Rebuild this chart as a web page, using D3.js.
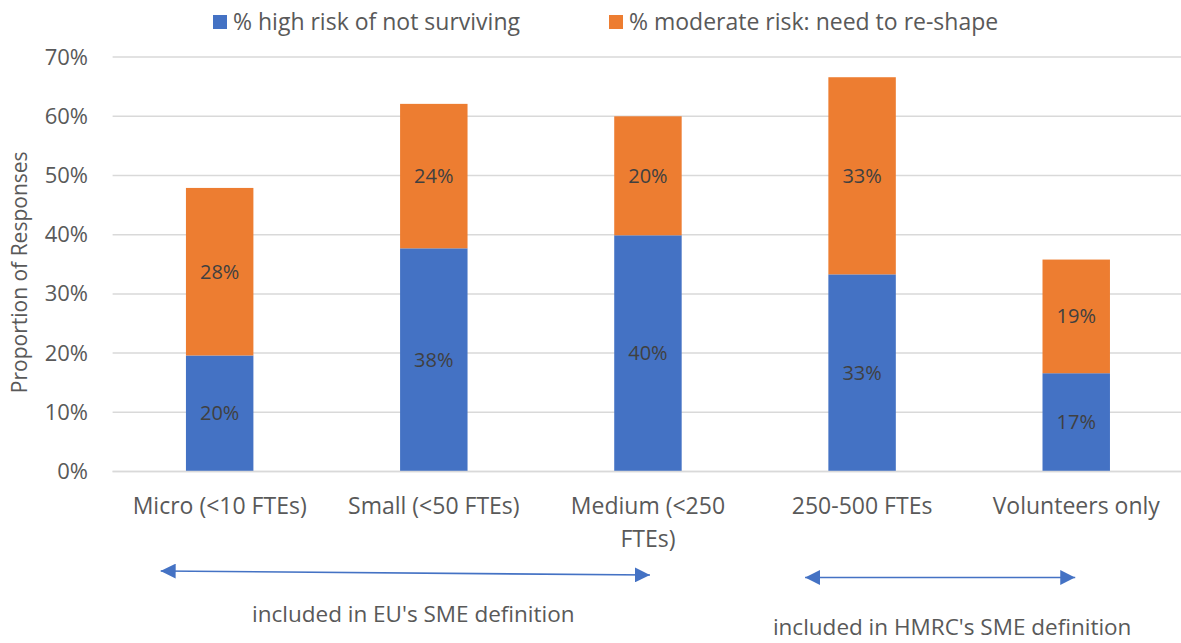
<!DOCTYPE html>
<html>
<head>
<meta charset="utf-8">
<script src="https://cdn.jsdelivr.net/npm/d3@7"></script>
<style>
  html, body { margin: 0; padding: 0; background: #fff; }
  svg { display: block; font-family: "Open Sans", "Noto Sans", sans-serif; }
</style>
</head>
<body>
<svg id="chart" width="1181" height="643"></svg>
<script>
// Organisation size groups
const categories = ["Micro (<10 FTEs)", "Small (<50 FTEs)", "Medium (<250 FTEs)", "250-500 FTEs", "Volunteers only"];
// Axis tick text for each group (line breaks as drawn)
const categoryLines = [["Micro (<10 FTEs)"], ["Small (<50 FTEs)"], ["Medium (<250", "FTEs)"], ["250-500 FTEs"], ["Volunteers only"]];

// Share of responses (%) per group
const highRisk = [19.6, 37.7, 39.9, 33.3, 16.6];
const moderateRisk = [28.3, 24.4, 20.1, 33.3, 19.2];

const seriesNames = ["% high risk of not surviving", "% moderate risk: need to re-shape"];
const seriesColors = ["#4472C4", "#ED7D31"];

const yTicks = [0, 10, 20, 30, 40, 50, 60, 70];

// Bracketed groups shown under the axis
const groupNotes = ["included in EU's SME definition", "included in HMRC's SME definition"];
const groupSpans = [["Micro (<10 FTEs)", "Medium (<250 FTEs)"], ["250-500 FTEs", "Volunteers only"]];

const svg = d3.select("#chart");

const plot = { left: 112.6, right: 1183.3, top: 57.1, bottom: 471.5 };

const x = d3.scaleBand()
  .domain(categories)
  .range([plot.left, plot.right])
  .paddingInner(0.685)
  .paddingOuter(0.3425);

const y = d3.scaleLinear().domain([0, 70]).range([plot.bottom, plot.top]);

// stacked layout
const rows = categories.map((c, i) => ({ cat: c, high: highRisk[i], moderate: moderateRisk[i] }));
const stack = d3.stack().keys(["high", "moderate"]);
const layers = stack(rows);

// gridlines
svg.append("g")
  .selectAll("line")
  .data(yTicks)
  .join("line")
  .attr("x1", plot.left)
  .attr("x2", 1181)
  .attr("y1", d => y(d))
  .attr("y2", d => y(d))
  .attr("stroke", "#D9D9D9")
  .attr("stroke-width", 1.5);

// y axis labels
const yAxis = d3.axisLeft(y)
  .tickValues(yTicks)
  .tickFormat(d => d + "%")
  .tickSize(0)
  .tickPadding(0);
const yg = svg.append("g")
  .attr("transform", `translate(88,0)`)
  .call(yAxis);
yg.select(".domain").remove();
yg.selectAll("text")
  .attr("fill", "#595959")
  .style("font-size", "22px")
  .style("font-family", "'Open Sans', sans-serif");

// y axis title
svg.append("text")
  .attr("transform", `translate(20,${(plot.top + plot.bottom) / 2 + 8}) rotate(-90)`)
  .attr("text-anchor", "middle")
  .attr("dy", "0.35em")
  .attr("fill", "#595959")
  .style("font-size", "21px")
  .text("Proportion of Responses");

// bars
svg.append("g")
  .selectAll("g")
  .data(layers)
  .join("g")
  .attr("fill", (d, i) => seriesColors[i])
  .selectAll("rect")
  .data(d => d)
  .join("rect")
  .attr("x", d => x(d.data.cat))
  .attr("width", x.bandwidth())
  .attr("y", d => y(d[1]))
  .attr("height", d => y(d[0]) - y(d[1]));

// value labels inside segments
svg.append("g")
  .selectAll("g")
  .data(layers)
  .join("g")
  .selectAll("text")
  .data(d => d.map(p => ({ p, v: p[1] - p[0] })))
  .join("text")
  .attr("x", d => x(d.p.data.cat) + x.bandwidth() / 2)
  .attr("y", d => (y(d.p[0]) + y(d.p[1])) / 2)
  .attr("dy", "0.35em")
  .attr("text-anchor", "middle")
  .attr("fill", "#404040")
  .style("font-size", "20px")
  .text(d => Math.round(d.v) + "%");

// category labels
const xAxis = d3.axisBottom(x).tickSize(0).tickFormat(() => "");
const xg = svg.append("g").attr("transform", `translate(0,${plot.bottom})`).call(xAxis);
xg.select(".domain").attr("stroke", "#D9D9D9").attr("stroke-width", 1.5)
  .attr("d", `M${plot.left},0H1181`);
xg.selectAll(".tick").each(function (d, i) {
  const t = d3.select(this).append("text")
    .attr("text-anchor", "middle")
    .attr("fill", "#595959")
    .style("font-size", "23px")
    .style("font-family", "'Open Sans', sans-serif");
  categoryLines[i].forEach((line, k) => {
    t.append("tspan").attr("x", 0).attr("y", 42 + k * 33).text(line);
  });
});

// legend
const legendItems = [
  { name: seriesNames[0], color: seriesColors[0], x: 213 },
  { name: seriesNames[1], color: seriesColors[1], x: 609 }
];
const lg = svg.append("g").selectAll("g").data(legendItems).join("g")
  .attr("transform", d => `translate(${d.x},15)`);
lg.append("rect").attr("width", 14).attr("height", 14).attr("fill", d => d.color);
lg.append("text")
  .attr("x", 20).attr("y", 7).attr("dy", "0.35em")
  .attr("fill", "#595959")
  .style("font-size", "23px")
  .text(d => d.name);

// bracket arrows and notes below the axis
const defs = svg.append("defs");
["start", "end"].forEach(kind => {
  defs.append("marker")
    .attr("id", "arrow-" + kind)
    .attr("viewBox", "0 0 10 10")
    .attr("refX", kind === "end" ? 10 : 0)
    .attr("refY", 5)
    .attr("markerWidth", 15)
    .attr("markerHeight", 15)
    .attr("markerUnits", "userSpaceOnUse")
    .attr("orient", "auto")
    .append("path")
    .attr("d", kind === "end" ? "M0,0L10,5L0,10Z" : "M10,0L0,5L10,10Z")
    .attr("fill", "#4472C4");
});

const center = c => x(c) + x.bandwidth() / 2;
const arrowSpecs = [
  { x1: center(groupSpans[0][0]) - 59, y1: 571, x2: center(groupSpans[0][1]) + 2, y2: 575, ty: 614, tx: 8 },
  { x1: center(groupSpans[1][0]) - 57, y1: 577.5, x2: center(groupSpans[1][1]) - 1, y2: 577.5, ty: 627, tx: 12 }
];
svg.append("g").selectAll("line").data(arrowSpecs).join("line")
  .attr("x1", d => d.x1).attr("y1", d => d.y1)
  .attr("x2", d => d.x2).attr("y2", d => d.y2)
  .attr("stroke", "#4472C4")
  .attr("stroke-width", 1.6)
  .attr("marker-start", "url(#arrow-start)")
  .attr("marker-end", "url(#arrow-end)");

svg.append("g").selectAll("text").data(arrowSpecs).join("text")
  .attr("x", d => (d.x1 + d.x2) / 2 + d.tx)
  .attr("y", d => d.ty)
  .attr("dy", "0.35em")
  .attr("text-anchor", "middle")
  .attr("fill", "#595959")
  .style("font-size", "22.5px")
  .text((d, i) => groupNotes[i]);
</script>
</body>
</html>
